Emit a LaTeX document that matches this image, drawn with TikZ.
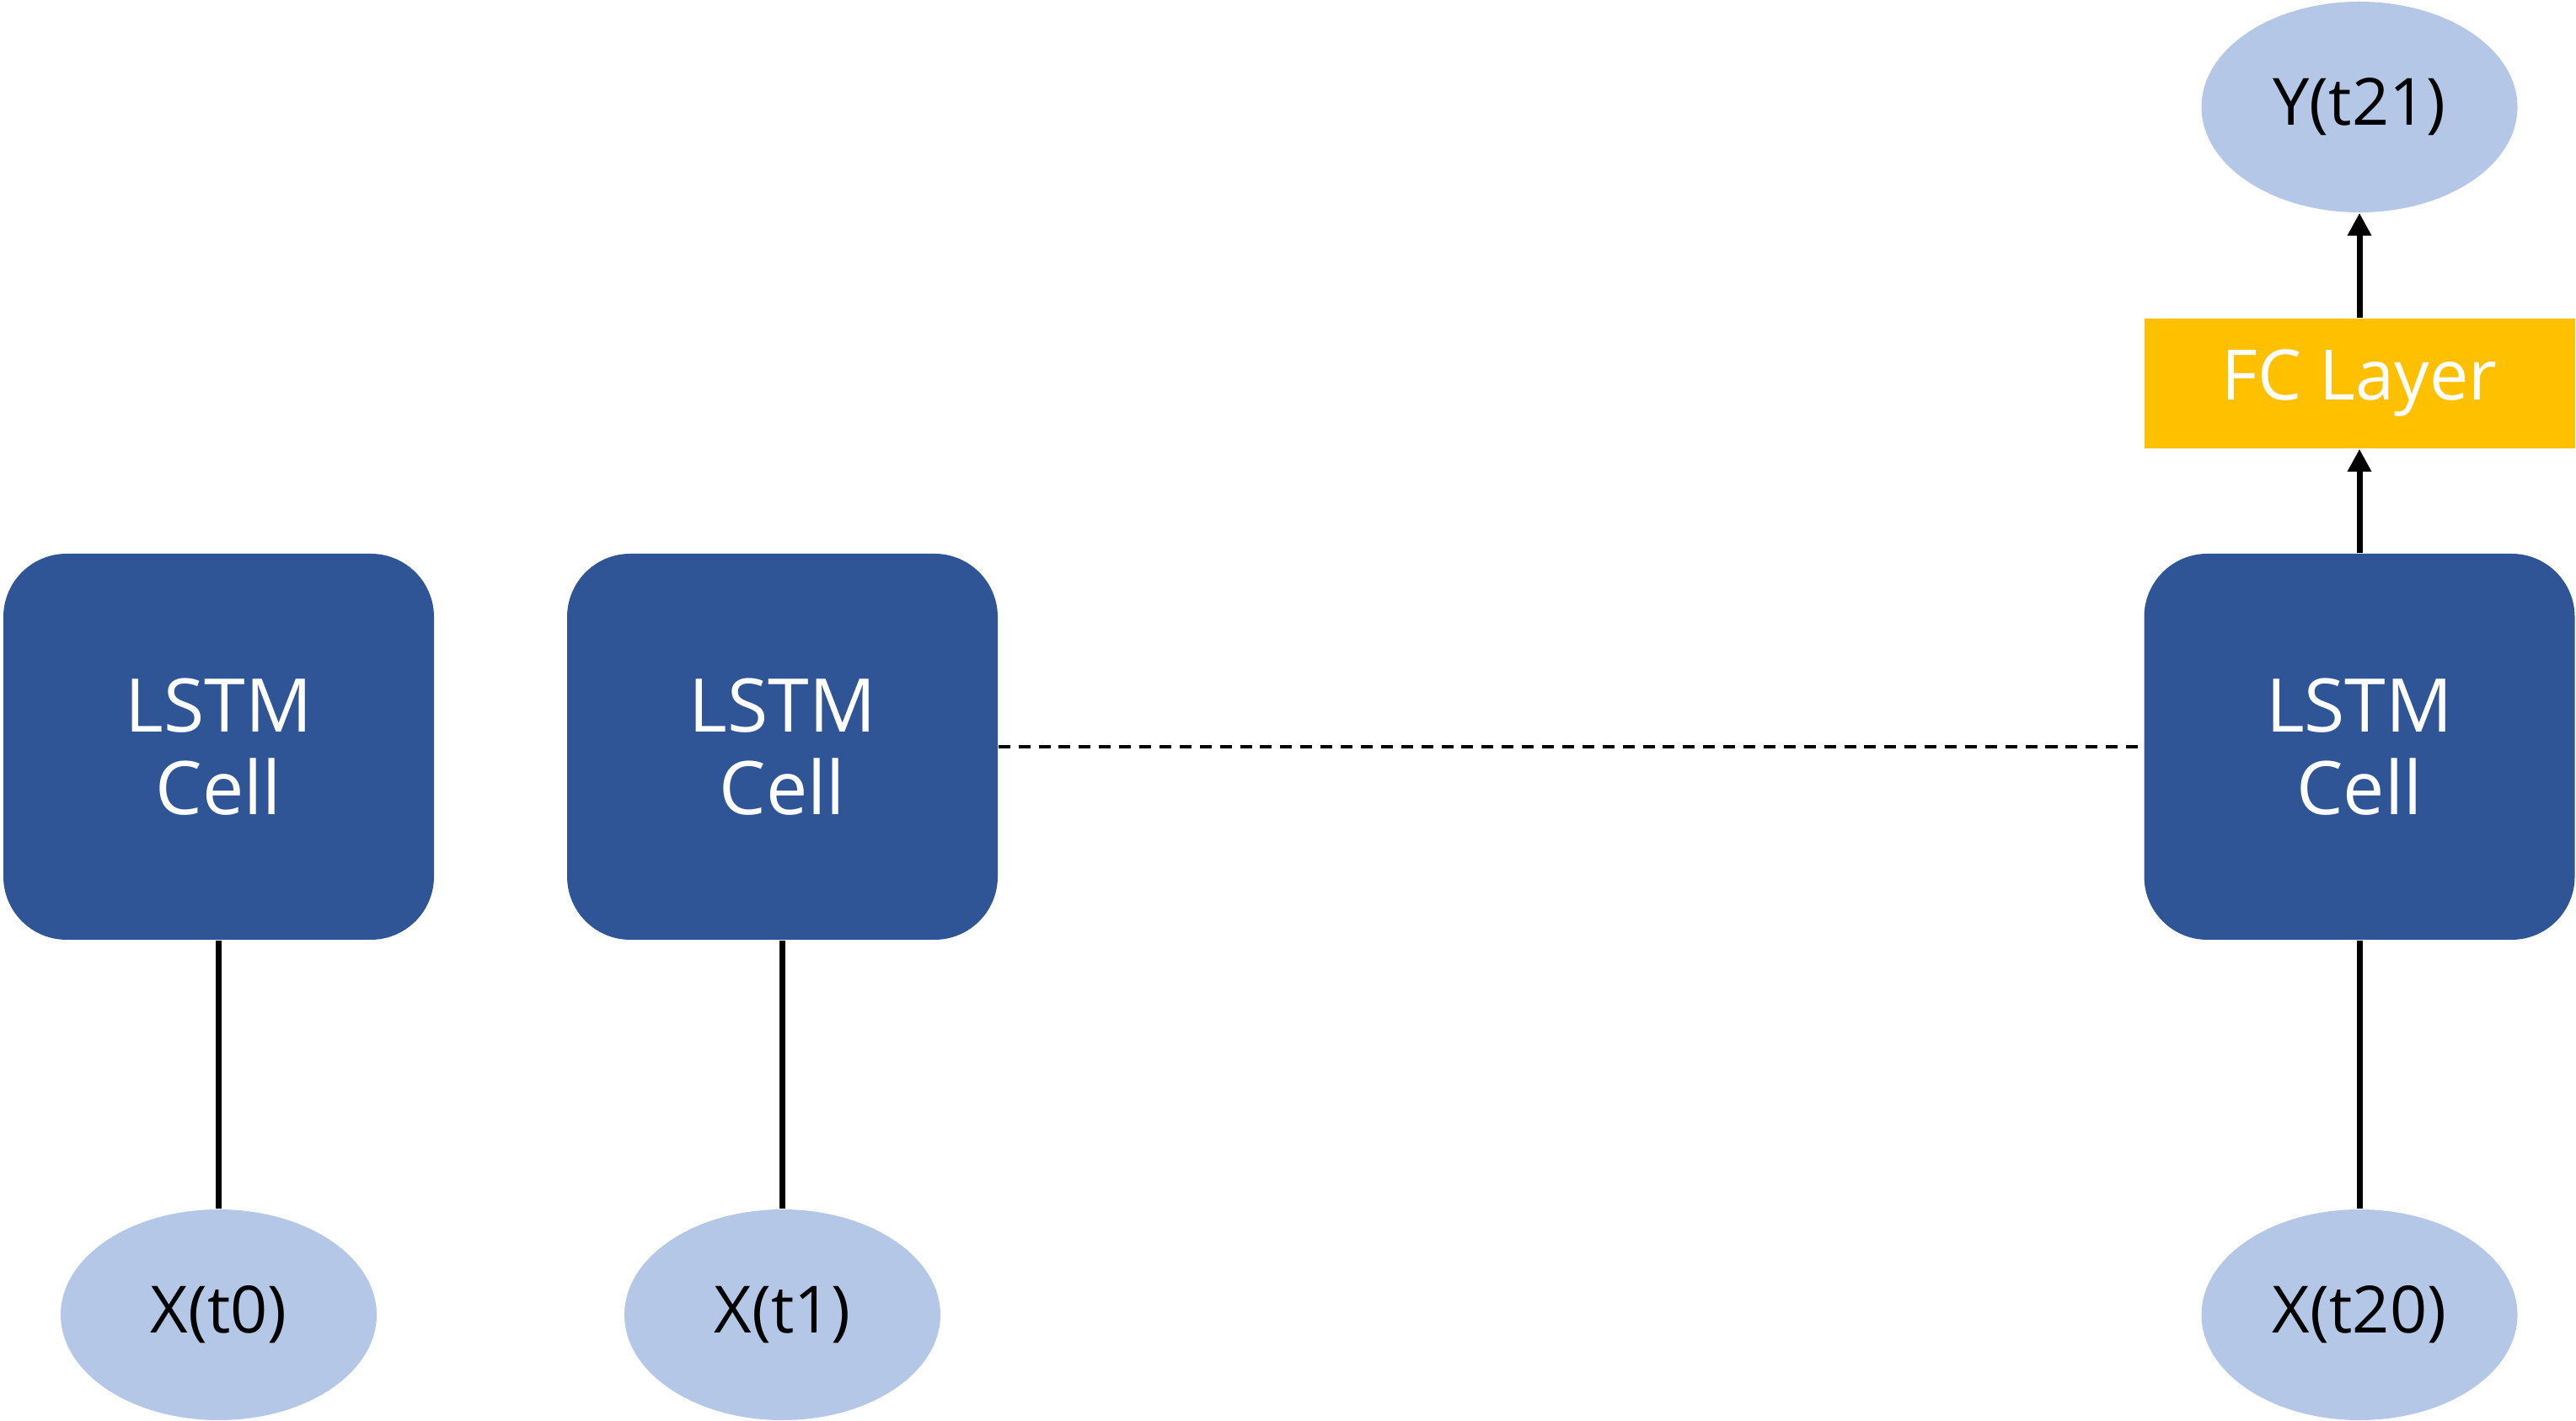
\documentclass[tikz,border=0pt]{standalone}
\usepackage{fontspec}
\setmainfont{Open Sans}
\usetikzlibrary{shapes.geometric,arrows.meta}

\definecolor{cellblue}{HTML}{2F5597}
\definecolor{fcyellow}{HTML}{FFC000}
\definecolor{iolight}{HTML}{B4C7E7}

\tikzset{
  lstm/.style={draw=none, fill=cellblue, text=white, rounded corners=0.75cm,
    minimum width=5.11cm, minimum height=4.58cm, inner sep=0pt, align=center,
    font=\fontsize{25}{28}\selectfont},
  fclayer/.style={draw=none, fill=fcyellow, text=white,
    minimum width=5.11cm, minimum height=1.54cm, inner sep=0pt,
    font=\fontsize{23.5}{26}\selectfont},
  io/.style={ellipse, draw=none, fill=iolight, text=black,
    minimum width=3.75cm, minimum height=2.5cm, inner sep=0pt,
    font=\fontsize{22}{25}\selectfont},
  link/.style={line width=2pt},
  skip/.style={line width=1.1pt, dash pattern=on 4pt off 2.8pt}
}

\begin{document}
\begin{tikzpicture}[>={Triangle[width=7.7pt,length=7.7pt]}]
  \useasboundingbox (0,0) rectangle (30.57,16.86);

  \node[lstm] (c0) at (2.595, 8.00) {LSTM\\Cell};
  \node[lstm] (c1) at (9.285, 8.00) {LSTM\\Cell};
  \node[lstm] (c20) at (28.00, 8.00) {LSTM\\Cell};

  \node[fclayer] (fc) at (28.00, 12.31) {FC Layer};
  \node[io] (y21) at (28.00, 15.59) {Y(t21)};

  \node[io] (x0) at (2.595, 1.26) {X(t0)};
  \node[io] (x1) at (9.285, 1.26) {X(t1)};
  \node[io] (x20) at (28.00, 1.26) {X(t20)};

  % inputs
  \draw[link] (x0) -- (c0);
  \draw[link] (x1) -- (c1);
  \draw[link] (x20) -- (c20);

  % skipped steps
  \draw[skip] (c1) -- (c20);

  % output
  \draw[link, ->] (c20) -- (fc);
  \draw[link, ->] (fc) -- (y21);
\end{tikzpicture}
\end{document}
